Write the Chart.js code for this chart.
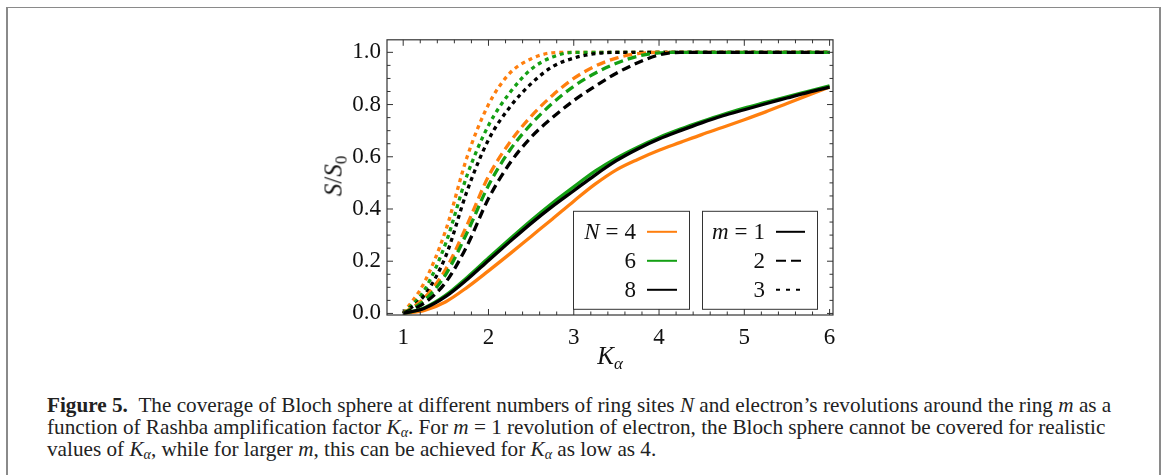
<!DOCTYPE html>
<html>
<head>
<meta charset="utf-8">
<script src="https://cdn.jsdelivr.net/npm/chart.js@4.4.1/dist/chart.umd.min.js"></script>
<style>
  html, body { margin:0; padding:0; background:#fff; }
  body { width:1163px; height:475px; position:relative; overflow:hidden; }
  #frame { position:absolute; left:6px; top:7px; width:1155px; height:480px;
           border-left:2px solid #8a8a8a; border-top:1px solid #8a8a8a; border-right:2px solid #8a8a8a; box-sizing:border-box; }
  #wrap { position:absolute; left:300px; top:20px; width:545px; height:350px; }
  .ttl { position:absolute; font-family:"Liberation Serif", "DejaVu Serif", serif; font-size:25px; color:#111; white-space:nowrap; line-height:1; }
  .ttl i { font-style:italic; }
  .ttl sub { font-size:17px; vertical-align:-5px; line-height:0; }
  #ytitle { left:333px; top:176px; transform:translate(-50%,-50%) rotate(-90deg); }
  #xtitle { left:610px; top:355px; transform:translate(-50%,-50%); }
  .cap { position:absolute; left:47px; font-family:"Liberation Serif", serif; font-size:21.2px; line-height:22px; color:#222; white-space:nowrap; }
  .cap sub { font-size:14px; vertical-align:-3px; line-height:0; }
</style>
</head>
<body>
<div id="frame"></div>
<div id="wrap"><canvas id="c"></canvas></div>
<div class="ttl" id="ytitle"><i>S</i>/<i>S</i><sub>0</sub></div>
<div class="ttl" id="xtitle"><i>K</i><sub><i>α</i></sub></div>
<div class="cap" style="top:394px;"><b>Figure 5.</b>&nbsp;&nbsp;The coverage of Bloch sphere at different numbers of ring sites <i>N</i> and electron’s revolutions around the ring <i>m</i> as a</div>
<div class="cap" style="top:416px;">function of Rashba amplification factor <i>K</i><sub><i>α</i></sub>. For <i>m</i> = 1 revolution of electron, the Bloch sphere cannot be covered for realistic</div>
<div class="cap" style="top:438px;">values of <i>K</i><sub><i>α</i></sub>, while for larger <i>m</i>, this can be achieved for <i>K</i><sub><i>α</i></sub> as low as 4.</div>
<script>
// ---- data ----
const K = [1,1.25,1.5,1.75,2,2.25,2.5,2.75,3,3.25,3.5,3.75,4,4.25,4.5,4.75,5,5.25,5.5,5.75,6];
// m = 1 (solid)
const N4_m1 = [0,0.012,0.045,0.10,0.163,0.228,0.295,0.362,0.43,0.495,0.55,0.59,0.625,0.655,0.685,0.713,0.742,0.772,0.804,0.836,0.867];
const N6_m1 = [0,0.022,0.07,0.138,0.212,0.285,0.356,0.423,0.485,0.545,0.595,0.637,0.674,0.706,0.735,0.762,0.786,0.808,0.83,0.851,0.872];
const N8_m1 = [0,0.02,0.065,0.13,0.203,0.275,0.345,0.41,0.47,0.53,0.585,0.63,0.668,0.70,0.73,0.757,0.78,0.803,0.825,0.847,0.867];
// m = 2 (dashed)
const N4_m2 = [0,0.06,0.17,0.34,0.525,0.655,0.755,0.835,0.9,0.947,0.978,0.995,1,1,1,1,1,1,1,1,1];
const N6_m2 = [0,0.05,0.15,0.31,0.49,0.625,0.725,0.805,0.87,0.92,0.958,0.985,0.998,1,1,1,1,1,1,1,1];
const N8_m2 = [0,0.04,0.12,0.26,0.44,0.575,0.675,0.75,0.815,0.87,0.92,0.96,0.99,1,1,1,1,1,1,1,1];
// m = 3 (dotted)
const N4_m3 = [0,0.12,0.32,0.60,0.80,0.92,0.975,0.998,1,1,1,1,1,1,1,1,1,1,1,1,1];
const N6_m3 = [0,0.09,0.27,0.53,0.72,0.845,0.935,0.982,1,1,1,1,1,1,1,1,1,1,1,1,1];
const N8_m3 = [0,0.07,0.22,0.47,0.665,0.79,0.88,0.945,0.978,0.995,1,1,1,1,1,1,1,1,1,1,1];

const xTicks = [1,2,3,4,5,6];
const yTicks = [0,0.2,0.4,0.6,0.8,1.0];
const nLabels = ['4','6','8'];
const mLabels = ['1','2','3'];

// ---- styles ----
const colors = {N4:'#ff7f0e', N6:'#14a014', N8:'#000000'};
const dashes = {m1:[], m2:[9,5], m3:[4,4]};
const legendDashes = {m1:[], m2:[10,5], m3:[4,6]};

const series = [
  ['N4','m3',N4_m3],['N6','m3',N6_m3],['N8','m3',N8_m3],
  ['N4','m2',N4_m2],['N6','m2',N6_m2],['N8','m2',N8_m2],
  ['N4','m1',N4_m1],['N6','m1',N6_m1],['N8','m1',N8_m1]
];
const datasets = series.map(([n,m,vals], i) => ({
  label: n+' '+m,
  data: K.map((k,j)=>({x:k, y:vals[j]})),
  borderColor: colors[n],
  borderWidth: 3.3,
  borderDash: dashes[m],
  pointRadius: 0,
  cubicInterpolationMode: 'monotone',
  fill: false,
  order: series.length - i
}));

const serif = '"Liberation Serif", "DejaVu Serif", serif';

const decor = {
  id: 'decor',
  afterDraw(chart) {
    const {ctx, chartArea:a, scales:{x, y}} = chart;
    ctx.save();
    // frame
    ctx.strokeStyle = '#333'; ctx.lineWidth = 1.2;
    ctx.strokeRect(a.left, a.top, a.right - a.left, a.bottom - a.top);
    // inward ticks
    ctx.lineWidth = 1;
    ctx.beginPath();
    const MAJ = 6, MIN = 3.5;
    const xMinorStep = 0.2, yMinorStep = 0.05;
    for (let v = 0.8; v <= x.max + 1e-9; v = Math.round((v + xMinorStep)*1000)/1000) {
      if (v < x.min) continue;
      const p = x.getPixelForValue(v);
      const L = (Math.abs(v - Math.round(v)) < 1e-6) ? MAJ : MIN;
      ctx.moveTo(p, a.bottom); ctx.lineTo(p, a.bottom - L);
      ctx.moveTo(p, a.top); ctx.lineTo(p, a.top + L);
    }
    for (let v = 0; v <= y.max + 1e-9; v = Math.round((v + yMinorStep)*1000)/1000) {
      const p = y.getPixelForValue(v);
      const L = (Math.abs(v*5 - Math.round(v*5)) < 1e-6) ? MAJ : MIN;
      ctx.moveTo(a.left, p); ctx.lineTo(a.left + L, p);
      ctx.moveTo(a.right, p); ctx.lineTo(a.right - L, p);
    }
    ctx.stroke();

    // legends
    const boxTop = a.top + 171, boxH = 98;
    const rowY = [21, 50, 79];
    function box(left, w, head, labels, styleFn, numRight, lineX0, lineX1) {
      ctx.fillStyle = '#fff';
      ctx.fillRect(left, boxTop, w, boxH);
      ctx.strokeStyle = '#333'; ctx.lineWidth = 1; ctx.setLineDash([]);
      ctx.strokeRect(left + 0.5, boxTop + 0.5, w, boxH);
      ctx.fillStyle = '#111';
      ctx.textBaseline = 'middle';
      labels.forEach((lab, i) => {
        const yy = boxTop + rowY[i];
        ctx.font = '23px ' + serif;
        ctx.textAlign = 'right';
        ctx.fillText(lab, left + numRight, yy + 1);
        if (i === 0) {
          const wNum = ctx.measureText(lab).width;
          const eqX = left + numRight - wNum - 6;
          ctx.fillText('=', eqX, yy + 1);
          const wEq = ctx.measureText('=').width;
          ctx.font = 'italic 23px ' + serif;
          ctx.fillText(head, eqX - wEq - 6, yy + 1);
        }
        const st = styleFn(i);
        ctx.strokeStyle = st.color; ctx.lineWidth = 2; ctx.setLineDash(st.dash);
        ctx.beginPath();
        ctx.moveTo(left + lineX0, yy); ctx.lineTo(left + lineX1, yy);
        ctx.stroke();
        ctx.setLineDash([]);
      });
    }
    const b1 = a.left + 186, b2 = a.left + 315;
    box(b1, 116, 'N', nLabels, i => ({color: colors['N'+nLabels[i]], dash: []}), 63, 74, 104);
    box(b2, 115, 'm', mLabels, i => ({color:'#000', dash: legendDashes['m'+mLabels[i]]}), 63, 74, 103);
    ctx.restore();
  }
};

new Chart(document.getElementById('c'), {
  type: 'line',
  data: { datasets },
  options: {
    responsive: true, maintainAspectRatio: false, animation: false,
    layout: { padding: { left: 0, right: 12, top: 17, bottom: 0 } },
    plugins: { legend: { display: false }, tooltip: { enabled: false } },
    scales: {
      x: {
        type: 'linear', min: 0.81, max: 6.04,
        grid: { display: false, drawTicks: false },
        border: { display: false },
        afterBuildTicks: s => { s.ticks = xTicks.map(v => ({value: v})); },
        afterFit: s => { s.height = 55; },
        ticks: { color: '#111', font: { family: serif, size: 23 }, padding: 9, maxRotation: 0,
                 callback: v => String(v) }
      },
      y: {
        type: 'linear', min: -0.006, max: 1.048,
        grid: { display: false, drawTicks: false },
        border: { display: false },
        afterBuildTicks: s => { s.ticks = yTicks.map(v => ({value: v})); },
        afterFit: s => { s.width = 87; },
        ticks: { color: '#111', font: { family: serif, size: 23 }, padding: 6,
                 callback: v => Number(v).toFixed(1) }
      }
    }
  },
  plugins: [decor]
});
</script>
</body>
</html>
